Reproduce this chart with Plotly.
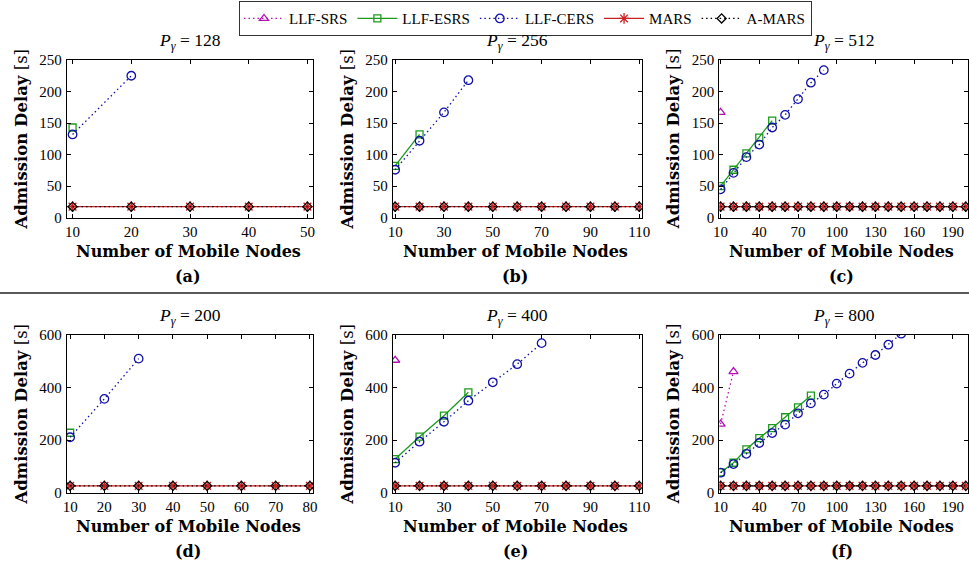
import plotly.graph_objects as go

W, H = 969, 566

# ---------------- data ----------------
series_names = ["LLF-SRS", "LLF-ESRS", "LLF-CERS", "MARS", "A-MARS"]

# (a) P_gamma = 128
x_a = [10, 20, 30, 40, 50]
srs_a_x, srs_a = [], []
esrs_a_x, esrs_a = [10], [143]
cers_a_x, cers_a = [10, 20], [132, 225]
mars_a = [17.5, 17.5, 17.5, 17.5, 17.5]
amars_a = [17.5, 17.5, 17.5, 17.5, 17.5]

# (b) P_gamma = 256
x_b = [10, 20, 30, 40, 50, 60, 70, 80, 90, 100, 110]
srs_b_x, srs_b = [], []
esrs_b_x, esrs_b = [10, 20], [82, 132]
cers_b_x, cers_b = [10, 20, 30, 40], [76, 122, 167, 218]
mars_b = [17.5, 17.5, 17.5, 17.5, 17.5, 17.5, 17.5, 17.5, 17.5, 17.5, 17.5]
amars_b = [17.5, 17.5, 17.5, 17.5, 17.5, 17.5, 17.5, 17.5, 17.5, 17.5, 17.5]

# (c) P_gamma = 512
x_c = [10, 20, 30, 40, 50, 60, 70, 80, 90, 100, 110, 120, 130, 140, 150, 160, 170, 180, 190, 200]
srs_c_x, srs_c = [10], [167]
esrs_c_x, esrs_c = [10, 20, 30, 40, 50], [50, 76, 102, 127, 154]
cers_c_x, cers_c = [10, 20, 30, 40, 50, 60, 70, 80, 90], [45, 71, 96, 116, 143, 163, 188, 214, 234]
mars_c = [17.5, 17.5, 17.5, 17.5, 17.5, 17.5, 17.5, 17.5, 17.5, 17.5,
          17.5, 17.5, 17.5, 17.5, 17.5, 17.5, 17.5, 17.5, 17.5, 17.5]
amars_c = [17.5, 17.5, 17.5, 17.5, 17.5, 17.5, 17.5, 17.5, 17.5, 17.5,
           17.5, 17.5, 17.5, 17.5, 17.5, 17.5, 17.5, 17.5, 17.5, 17.5]

# (d) P_gamma = 200
x_d = [10, 20, 30, 40, 50, 60, 70, 80]
srs_d_x, srs_d = [], []
esrs_d_x, esrs_d = [10], [228]
cers_d_x, cers_d = [10, 20, 30], [211, 357, 510]
mars_d = [26, 26, 26, 26, 26, 26, 26, 26]
amars_d = [26, 26, 26, 26, 26, 26, 26, 26]

# (e) P_gamma = 400
x_e = [10, 20, 30, 40, 50, 60, 70, 80, 90, 100, 110]
srs_e_x, srs_e = [10], [504]
esrs_e_x, esrs_e = [10, 20, 30, 40], [128, 213, 293, 382]
cers_e_x, cers_e = [10, 20, 30, 40, 50, 60, 70], [114, 194, 270, 350, 420, 489, 569]
mars_e = [26, 26, 26, 26, 26, 26, 26, 26, 26, 26, 26]
amars_e = [26, 26, 26, 26, 26, 26, 26, 26, 26, 26, 26]

# (f) P_gamma = 800
x_f = [10, 20, 30, 40, 50, 60, 70, 80, 90, 100, 110, 120, 130, 140, 150, 160, 170, 180, 190, 200]
srs_f_x, srs_f = [10, 20], [261, 461]
esrs_f_x, esrs_f = [10, 20, 30, 40, 50, 60, 70, 80], [77, 114, 165, 208, 246, 287, 325, 369]
cers_f_x = [10, 20, 30, 40, 50, 60, 70, 80, 90, 100, 110, 120, 130, 140, 150]
cers_f = [76, 109, 148, 189, 227, 259, 302, 340, 373, 415, 453, 494, 524, 563, 605]
mars_f = [26, 26, 26, 26, 26, 26, 26, 26, 26, 26, 26, 26, 26, 26, 26, 26, 26, 26, 26, 26]
amars_f = [26, 26, 26, 26, 26, 26, 26, 26, 26, 26, 26, 26, 26, 26, 26, 26, 26, 26, 26, 26]

p_values = ["128", "256", "512", "200", "400", "800"]
panel_labels = ["(a)", "(b)", "(c)", "(d)", "(e)", "(f)"]

panels = [
    dict(x=x_a, srs=(srs_a_x, srs_a), esrs=(esrs_a_x, esrs_a), cers=(cers_a_x, cers_a), mars=mars_a, amars=amars_a,
         xticks=[10, 20, 30, 40, 50], xr=[9, 51], yticks=[0, 50, 100, 150, 200, 250], yr=[0, 250]),
    dict(x=x_b, srs=(srs_b_x, srs_b), esrs=(esrs_b_x, esrs_b), cers=(cers_b_x, cers_b), mars=mars_b, amars=amars_b,
         xticks=[10, 30, 50, 70, 90, 110], xr=[9, 111], yticks=[0, 50, 100, 150, 200, 250], yr=[0, 250]),
    dict(x=x_c, srs=(srs_c_x, srs_c), esrs=(esrs_c_x, esrs_c), cers=(cers_c_x, cers_c), mars=mars_c, amars=amars_c,
         xticks=[10, 40, 70, 100, 130, 160, 190], xr=[9, 202], yticks=[0, 50, 100, 150, 200, 250], yr=[0, 250]),
    dict(x=x_d, srs=(srs_d_x, srs_d), esrs=(esrs_d_x, esrs_d), cers=(cers_d_x, cers_d), mars=mars_d, amars=amars_d,
         xticks=[10, 20, 30, 40, 50, 60, 70, 80], xr=[9, 81], yticks=[0, 200, 400, 600], yr=[0, 600]),
    dict(x=x_e, srs=(srs_e_x, srs_e), esrs=(esrs_e_x, esrs_e), cers=(cers_e_x, cers_e), mars=mars_e, amars=amars_e,
         xticks=[10, 30, 50, 70, 90, 110], xr=[9, 111], yticks=[0, 200, 400, 600], yr=[0, 600]),
    dict(x=x_f, srs=(srs_f_x, srs_f), esrs=(esrs_f_x, esrs_f), cers=(cers_f_x, cers_f), mars=mars_f, amars=amars_f,
         xticks=[10, 40, 70, 100, 130, 160, 190], xr=[9, 202], yticks=[0, 200, 400, 600], yr=[0, 600]),
]

# ---------------- styles ----------------
C_MAG = "#b30fb3"
C_GRN = "#1c9a1c"
C_BLU = "#1010a8"
C_RED = "#cc2020"
C_BLK = "#000000"
FONT = "Liberation Serif"
BOLD = "DejaVu Serif"
DOT = "1.5px,3px"

styles = {
    "LLF-SRS": dict(color=C_MAG, dash=DOT, symbol="triangle-up-open", size=8),
    "LLF-ESRS": dict(color=C_GRN, dash="solid", symbol="square-open", size=7),
    "LLF-CERS": dict(color=C_BLU, dash=DOT, symbol="circle-open", size=8.5),
    "MARS": dict(color=C_RED, dash="solid", symbol="asterisk-open", size=9),
    "A-MARS": dict(color=C_BLK, dash=DOT, symbol="diamond-open", size=7),
}

# pixel layout
cols = [(66.7, 313.3), (392.7, 641.7), (719.3, 968.3)]
rows = [(60.0, 217.7), (335.0, 492.7)]


def px(x):
    return x / W


def py(y):
    return 1 - y / H


fig = go.Figure()
shown = set()

for name in series_names:
    st = styles[name]
    for i, p in enumerate(panels):
        if name == "LLF-SRS":
            xs, ys = p["srs"]
        elif name == "LLF-ESRS":
            xs, ys = p["esrs"]
        elif name == "LLF-CERS":
            xs, ys = p["cers"]
        elif name == "MARS":
            xs, ys = p["x"], p["mars"]
        else:
            xs, ys = p["x"], p["amars"]
        if len(xs) == 0:
            continue
        sfx = "" if i == 0 else str(i + 1)
        fig.add_trace(go.Scatter(
            x=xs, y=ys, mode="lines+markers", name=name,
            legendgroup=name, showlegend=name not in shown,
            line=dict(color=st["color"], dash=st["dash"], width=1.3),
            marker=dict(symbol=st["symbol"], size=st["size"], color=st["color"],
                        line=dict(color=st["color"], width=1.3)),
            xaxis="x" + sfx, yaxis="y" + sfx,
        ))
        shown.add(name)

layout = dict(
    width=W, height=H, margin=dict(l=0, r=0, t=0, b=0, autoexpand=False),
    paper_bgcolor="white", plot_bgcolor="white",
    font=dict(family=FONT, size=15, color="black"),
    legend=dict(orientation="h", x=525.5 / W, xanchor="center", y=py(1), yanchor="top",
                bordercolor="#333333", borderwidth=1.2, bgcolor="white",
                font=dict(family=FONT, size=15, color="black"), itemwidth=40),
)

annotations = []
for i, p in enumerate(panels):
    r, c = divmod(i, 3)
    x0, x1 = cols[c]
    y0, y1 = rows[r]
    sfx = "" if i == 0 else str(i + 1)
    common = dict(showgrid=False, zeroline=False, showline=True, mirror="ticks",
                  linecolor="black", linewidth=1, ticks="inside", ticklen=4,
                  tickcolor="black", tickfont=dict(family=FONT, size=15, color="black"))
    layout["xaxis" + sfx] = dict(domain=[px(x0), px(x1)], range=p["xr"], tickvals=p["xticks"],
                                 anchor="y" + sfx, ticklabelstandoff=0, **common)
    layout["yaxis" + sfx] = dict(domain=[py(y1), py(y0)], range=p["yr"], tickvals=p["yticks"],
                                 anchor="x" + sfx, ticklabelstandoff=1, **common)
    xc = (x0 + x1) / 2
    # panel title
    annotations.append(dict(text="<i>P</i><sub><i>γ</i></sub> = " + p_values[i], x=px(xc), y=py(y0 - 5),
                            xref="paper", yref="paper", xanchor="center", yanchor="bottom",
                            showarrow=False, font=dict(family=FONT, size=17.5, color="black")))
    # x title
    annotations.append(dict(text="<b>Number of Mobile Nodes</b>", x=px(xc - 2), y=py(y1 + 34),
                            xref="paper", yref="paper", xanchor="center", yanchor="middle",
                            showarrow=False, font=dict(family=BOLD, size=16, color="black")))
    # panel label
    annotations.append(dict(text="<b>" + panel_labels[i] + "</b>", x=px(xc - 2), y=py(y1 + 59),
                            xref="paper", yref="paper", xanchor="center", yanchor="middle",
                            showarrow=False, font=dict(family=BOLD, size=16, color="black")))
    # y title
    annotations.append(dict(text="<b>Admission Delay</b> [s]", x=px(x0 - 45), y=py((y0 + y1) / 2),
                            xref="paper", yref="paper", xanchor="center", yanchor="middle",
                            textangle=-90, showarrow=False,
                            font=dict(family=BOLD, size=16.5, color="black")))

layout["annotations"] = annotations
layout["shapes"] = [dict(type="line", xref="paper", yref="paper", x0=0, x1=1, y0=py(293), y1=py(293),
                         line=dict(color="#222222", width=1.7))]

fig.update_layout(**layout)
fig.write_html("out.html")
